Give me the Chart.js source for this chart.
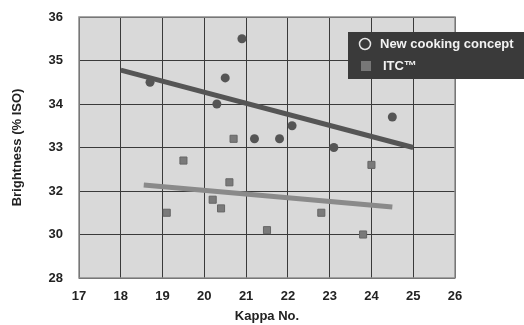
<!DOCTYPE html>
<html>
<head>
<meta charset="utf-8">
<script src="https://cdn.jsdelivr.net/npm/chart.js@4/dist/chart.umd.min.js"></script>
<style>
  html, body { margin: 0; padding: 0; background: #ffffff; }
  #wrap { width: 524px; height: 325px; position: relative; }
</style>
</head>
<body>
<div id="wrap"><canvas id="chart" width="524" height="325"></canvas></div>
<script>
// Brightness axis uses unevenly spaced labels, each on its own grid line
const brightnessTicks = [28, 30, 32, 33, 34, 35, 36];
const kappaMin = 17;
const kappaMax = 26;

// New cooking concept samples
const newConceptKappa = [18.7, 20.3, 20.5, 20.9, 21.2, 21.8, 22.1, 23.1, 24.5];
const newConceptBrightness = [34.5, 34.0, 34.6, 35.5, 33.2, 33.2, 33.5, 33.0, 33.7];

// ITC™ samples
const itcKappa = [19.1, 19.5, 20.2, 20.4, 20.6, 20.7, 21.5, 22.8, 23.8, 24.0];
const itcBrightness = [31.0, 32.7, 31.6, 31.2, 32.2, 33.2, 30.2, 31.0, 30.0, 32.6];

// Trend lines (end points)
const newConceptTrendKappa = [18.0, 25.0];
const newConceptTrendBrightness = [34.78, 33.0];
const itcTrendKappa = [18.55, 24.5];
const itcTrendBrightness = [32.14, 31.26];

const seriesLabels = ['New cooking concept', 'ITC\u2122'];

// Map a brightness value onto the evenly spaced grid position
function toAxis(v) {
  const t = brightnessTicks;
  for (let i = 0; i < t.length - 1; i++) {
    if (v <= t[i + 1]) return i + (v - t[i]) / (t[i + 1] - t[i]);
  }
  return t.length - 1;
}
function points(xs, ys) {
  return xs.map((x, i) => ({ x: x, y: toAxis(ys[i]) }));
}

const FONT = "'Liberation Sans', Arial, sans-serif";
const dark = '#555555';
const light = '#8a8a8a';

const plotDecor = {
  id: 'plotDecor',
  beforeDraw(chart) {
    const { ctx, chartArea: a } = chart;
    ctx.save();
    ctx.fillStyle = '#d9d9d9';
    ctx.fillRect(a.left, a.top, a.right - a.left, a.bottom - a.top);
    ctx.restore();
  },
  beforeDatasetsDraw(chart) {
    const { ctx, chartArea: a } = chart;
    ctx.save();
    ctx.strokeStyle = '#8c8c8c';
    ctx.lineWidth = 1.5;
    ctx.strokeRect(a.left, a.top, a.right - a.left, a.bottom - a.top);
    ctx.restore();
  },
  afterDraw(chart) {
    const { ctx } = chart;
    const x0 = 348, y0 = 32, h = 47;
    ctx.save();
    ctx.fillStyle = '#3a3a3a';
    ctx.fillRect(x0, y0, chart.width - x0, h);
    // circle marker
    ctx.strokeStyle = '#e6e6e6';
    ctx.lineWidth = 1.5;
    ctx.beginPath();
    ctx.arc(365, 44, 5.5, 0, Math.PI * 2);
    ctx.stroke();
    // square marker
    ctx.fillStyle = '#777777';
    ctx.fillRect(361, 61, 10, 10);
    ctx.fillStyle = '#f2f2f2';
    ctx.font = 'bold 13px ' + FONT;
    ctx.textBaseline = 'middle';
    ctx.textAlign = 'left';
    ctx.fillText(seriesLabels[0], 380, 44);
    ctx.fillText(seriesLabels[1], 383, 66);
    ctx.restore();
  }
};

new Chart(document.getElementById('chart'), {
  type: 'scatter',
  data: {
    datasets: [
      {
        label: seriesLabels[0],
        data: points(newConceptKappa, newConceptBrightness),
        pointStyle: 'circle',
        pointRadius: 4.5,
        backgroundColor: dark,
        borderColor: dark,
        borderWidth: 0,
        order: 1
      },
      {
        label: seriesLabels[1],
        data: points(itcKappa, itcBrightness),
        pointStyle: 'rect',
        pointRadius: 5,
        backgroundColor: '#7a7a7a',
        borderColor: '#666666',
        borderWidth: 1,
        order: 1
      },
      {
        label: 'trend1',
        data: points(newConceptTrendKappa, newConceptTrendBrightness),
        showLine: true,
        pointRadius: 0,
        borderColor: dark,
        borderWidth: 5,
        order: 2
      },
      {
        label: 'trend2',
        data: points(itcTrendKappa, itcTrendBrightness),
        showLine: true,
        pointRadius: 0,
        borderColor: light,
        borderWidth: 5,
        order: 2
      }
    ]
  },
  options: {
    responsive: false,
    animation: false,
    layout: { padding: { top: 17, right: 69, left: 0, bottom: 0 } },
    plugins: {
      legend: { display: false },
      tooltip: { enabled: false }
    },
    scales: {
      x: {
        type: 'linear',
        min: kappaMin,
        max: kappaMax,
        afterFit(s) { s.height = 47; },
        ticks: {
          stepSize: 1,
          padding: 11,
          color: '#222222',
          font: { family: FONT, size: 13, weight: 'bold' }
        },
        grid: { color: '#3a3a3a', lineWidth: 1, drawTicks: false },
        border: { display: false },
        title: {
          display: true,
          text: 'Kappa No.',
          color: '#222222',
          font: { family: FONT, size: 13, weight: 'bold' },
          padding: { top: 4, bottom: 1 }
        }
      },
      y: {
        type: 'linear',
        min: 0,
        max: brightnessTicks.length - 1,
        afterFit(s) { s.width = 79; s.paddingTop = 0; s.paddingBottom = 0; },
        ticks: {
          stepSize: 1,
          padding: 16,
          color: '#222222',
          font: { family: FONT, size: 13, weight: 'bold' },
          callback: (v) => brightnessTicks[v]
        },
        grid: { color: '#3a3a3a', lineWidth: 1, drawTicks: false },
        border: { display: false },
        title: {
          display: true,
          text: 'Brightness (% ISO)',
          color: '#222222',
          font: { family: FONT, size: 13, weight: 'bold' },
          padding: { top: 10, bottom: 4 }
        }
      }
    }
  },
  plugins: [plotDecor]
});
</script>
</body>
</html>
